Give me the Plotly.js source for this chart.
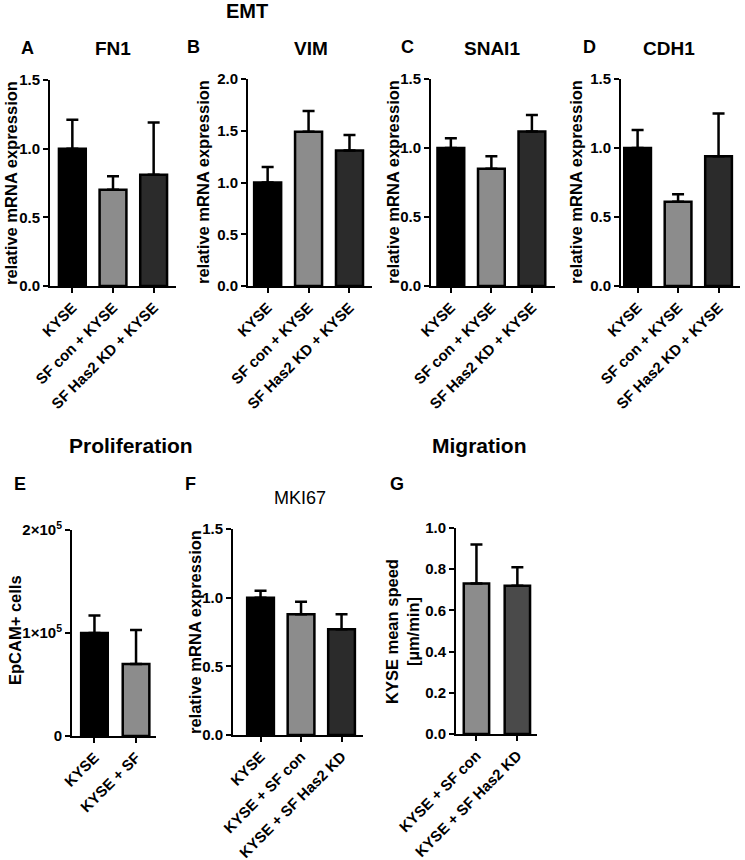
<!DOCTYPE html>
<html>
<head>
<meta charset="utf-8">
<script src="https://cdn.plot.ly/plotly-3.0.1.min.js"></script>
<style>html,body{margin:0;padding:0;background:#fff;}#chart{width:745px;height:860px;}</style>
</head>
<body>
<div id="chart"></div>
<script>
// ---- data ----
const groupsEMT = ['KYSE', 'SF con + KYSE', 'SF Has2 KD + KYSE'];
const fn1 = [1.00, 0.70, 0.81];
const fn1Err = [0.21, 0.10, 0.38];
const vim = [1.00, 1.49, 1.31];
const vimErr = [0.15, 0.20, 0.15];
const snai1 = [1.00, 0.85, 1.12];
const snai1Err = [0.07, 0.09, 0.12];
const cdh1 = [1.00, 0.61, 0.94];
const cdh1Err = [0.13, 0.055, 0.31];

const groupsProlif = ['KYSE', 'KYSE + SF'];
const epcamCells = [100000, 70000];
const epcamErr = [17000, 33000];

const groupsMKI = ['KYSE', 'KYSE + SF con', 'KYSE + SF Has2 KD'];
const mki67 = [1.00, 0.88, 0.77];
const mki67Err = [0.05, 0.09, 0.11];

const groupsMig = ['KYSE + SF con', 'KYSE + SF Has2 KD'];
const speed = [0.73, 0.72];
const speedErr = [0.19, 0.09];

const colors3 = ['#000000', '#8c8c8c', '#2b2b2b'];
const colors2E = ['#000000', '#8c8c8c'];
const colors2G = ['#8c8c8c', '#4a4a4a'];

// ---- layout helpers ----
const W = 745, H = 860;
const px = v => v / W;
const py = v => 1 - v / H;
const FONT = 'Liberation Sans, Arial, sans-serif';

const traces = [];
const layout = {
  width: W, height: H,
  margin: {l: 0, r: 0, t: 0, b: 0},
  paper_bgcolor: '#fff', plot_bgcolor: 'rgba(0,0,0,0)',
  showlegend: false,
  font: {family: FONT, color: '#000'},
  annotations: []
};

function addPanel(idx, cats, vals, errs, cols, x0, x1, yBottom, yTop, yMax, dtick, xr, bw, extraY) {
  const xa = idx === 1 ? 'x' : 'x' + idx;
  const ya = idx === 1 ? 'y' : 'y' + idx;
  traces.push({
    type: 'bar', x: cats, y: vals, xaxis: xa, yaxis: ya,
    width: bw,
    marker: {color: cols, line: {color: '#000', width: 2.5}},
    error_y: {type: 'data', symmetric: false, array: errs, arrayminus: cats.map(() => 0),
              color: '#000', thickness: 2.5, width: 6},
    hoverinfo: 'none'
  });
  const xKey = idx === 1 ? 'xaxis' : 'xaxis' + idx;
  const yKey = idx === 1 ? 'yaxis' : 'yaxis' + idx;
  layout[xKey] = {
    domain: [px(x0), px(x1)], anchor: ya, type: 'category', range: xr,
    showline: true, linecolor: '#000', linewidth: 2,
    ticks: 'outside', ticklen: 5, tickwidth: 2, tickcolor: '#000',
    tickangle: -45, tickfont: {family: FONT, size: 15, color: '#000', weight: 'bold'},
    showgrid: false, zeroline: false, fixedrange: true
  };
  layout[yKey] = Object.assign({
    domain: [py(yBottom), py(yTop)], anchor: xa, range: [0, yMax],
    dtick: dtick, tickformat: '.1f',
    showline: true, linecolor: '#000', linewidth: 2,
    ticks: 'outside', ticklen: 5, tickwidth: 2, tickcolor: '#000',
    tickfont: {family: FONT, size: 15, color: '#000', weight: 'bold'},
    showgrid: false, zeroline: false, fixedrange: true
  }, extraY || {});
}

addPanel(1, groupsEMT, fn1, fn1Err, colors3, 50, 176, 286, 80, 1.5, 0.5, [-0.55, 2.55], 0.66);
addPanel(2, groupsEMT, vim, vimErr, colors3, 248, 372, 286, 79, 2.0, 0.5, [-0.48, 2.55], 0.66);
addPanel(3, groupsEMT, snai1, snai1Err, colors3, 431, 555, 286, 79, 1.5, 0.5, [-0.49, 2.57], 0.66);
addPanel(4, groupsEMT, cdh1, cdh1Err, colors3, 621, 740, 286, 79, 1.5, 0.5, [-0.41, 2.53], 0.66);
addPanel(5, groupsProlif, epcamCells, epcamErr, colors2E, 72, 156, 736, 530, 200000, null, [-0.54, 1.48], 0.64,
  {tickmode: 'array', tickvals: [0, 100000, 200000], ticktext: ['0', '1×10<sup>5</sup>', '2×10<sup>5</sup>'], tickformat: null,
   tickfont: {family: FONT, size: 15, color: '#000', weight: 'bold'}});
addPanel(6, groupsMKI, mki67, mki67Err, colors3, 233, 363, 735, 529, 1.5, 0.5, [-0.68, 2.53], 0.66);
addPanel(7, groupsMig, speed, speedErr, colors2G, 456, 537, 734, 528, 1.0, 0.2, [-0.5, 1.48], 0.62);

function ann(text, x, y, size, opts) {
  layout.annotations.push(Object.assign({
    text: text, xref: 'paper', yref: 'paper', x: px(x), y: py(y),
    xanchor: 'center', yanchor: 'middle', showarrow: false,
    font: {family: FONT, size: size, color: '#000', weight: 'bold'}
  }, opts || {}));
}

// section titles
ann('EMT', 247, 11, 20);
ann('Proliferation', 131, 445, 21);
ann('Migration', 480, 445, 21);
// panel letters
ann('A', 28, 48, 18); ann('B', 193, 47, 18); ann('C', 407, 47, 18); ann('D', 589, 47, 18);
ann('E', 20, 484, 18); ann('F', 190, 484, 18); ann('G', 397, 484, 18);
// panel titles
ann('FN1', 113, 48, 19); ann('VIM', 311, 48, 19); ann('SNAI1', 492, 48, 19); ann('CDH1', 669, 48, 19);
ann('MKI67', 300, 498, 18, {font: {family: FONT, size: 18, color: '#000', weight: 'normal'}});
// y titles
const yt = {textangle: -90};
ann('relative mRNA expression', 11, 183, 16.5, yt);
ann('relative mRNA expression', 203, 182, 16.5, yt);
ann('relative mRNA expression', 393, 182, 16.5, yt);
ann('relative mRNA expression', 576, 182, 16.5, yt);
ann('EpCAM+ cells', 15, 630, 16.5, yt);
ann('relative mRNA expression', 195, 632, 16.5, yt);
ann('KYSE mean speed<br>[µm/min]', 402, 631, 16.5, yt);

Plotly.newPlot('chart', traces, layout, {staticPlot: true, displayModeBar: false});
</script>
</body>
</html>
